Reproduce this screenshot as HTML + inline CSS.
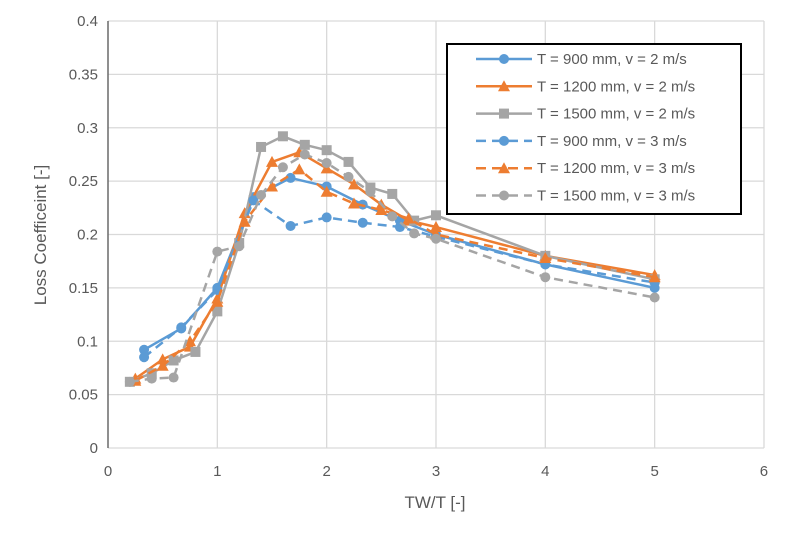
<!DOCTYPE html>
<html><head><meta charset="utf-8"><style>
body{margin:0;background:#fff}
svg text{font-family:"Liberation Sans",sans-serif;fill:#595959}
</style></head><body>
<svg id="s" width="800" height="541" xmlns="http://www.w3.org/2000/svg">
<rect width="800" height="541" fill="#fff"/>
<g id="grid"></g>
<g id="series"></g>
<text x="435" y="508" font-size="17" text-anchor="middle">TW/T [-]</text>
<text transform="translate(46,235) rotate(-90)" font-size="17" text-anchor="middle">Loss Coefficeint [-]</text>
<rect x="447" y="44" width="294" height="170" fill="#fff" stroke="#000" stroke-width="2"/>
<g id="leg"></g>
</svg>
<script>
const NS="http://www.w3.org/2000/svg";
const X=x=>108+109.33*x, Y=y=>448-1067.5*y;
function el(p,t,a){const e=document.createElementNS(NS,t);for(const k in a)e.setAttribute(k,a[k]);p.appendChild(e);return e;}
const g=document.getElementById('grid');
for(let i=0;i<=8;i++){const y=Y(i*0.05);el(g,'line',{x1:108,x2:764,y1:y,y2:y,stroke:'#d9d9d9','stroke-width':1.3});
 const t=el(g,'text',{x:98,y:y+5,'font-size':15,'text-anchor':'end'});t.textContent=i==0?'0':(i*0.05).toFixed(2).replace(/0$/,'');}
for(let i=0;i<=6;i++){const x=X(i);el(g,'line',{x1:x,x2:x,y1:21,y2:448,stroke:'#d9d9d9','stroke-width':1.3});
 const t=el(g,'text',{x:x,y:476,'font-size':15,'text-anchor':'middle'});t.textContent=i;}
el(g,'line',{x1:108,x2:108,y1:21,y2:448,stroke:'#595959','stroke-width':1.3});
const S=[
{c:'#5b9bd5',m:'c',d:false,n:'T = 900 mm, v = 2 m/s',p:[[0.33,0.092],[0.67,0.112],[1,0.15],[1.33,0.235],[1.67,0.253],[2,0.245],[2.33,0.228],[2.67,0.213],[3,0.2],[4,0.172],[5,0.15]]},
{c:'#ed7d31',m:'t',d:false,n:'T = 1200 mm, v = 2 m/s',p:[[0.25,0.065],[0.5,0.083],[0.75,0.095],[1,0.14],[1.25,0.22],[1.5,0.268],[1.75,0.277],[2,0.262],[2.25,0.247],[2.5,0.228],[2.75,0.213],[3,0.207],[4,0.18],[5,0.162]]},
{c:'#a5a5a5',m:'s',d:false,n:'T = 1500 mm, v = 2 m/s',p:[[0.2,0.062],[0.4,0.07],[0.6,0.082],[0.8,0.09],[1,0.128],[1.2,0.192],[1.4,0.282],[1.6,0.292],[1.8,0.284],[2,0.279],[2.2,0.268],[2.4,0.244],[2.6,0.238],[2.8,0.213],[3,0.218],[4,0.18],[5,0.158]]},
{c:'#5b9bd5',m:'c',d:true,n:'T = 900 mm, v = 3 m/s',p:[[0.33,0.085],[0.67,0.113],[1,0.148],[1.33,0.232],[1.67,0.208],[2,0.216],[2.33,0.211],[2.67,0.207],[3,0.198],[4,0.172],[5,0.155]]},
{c:'#ed7d31',m:'t',d:true,n:'T = 1200 mm, v = 3 m/s',p:[[0.25,0.063],[0.5,0.077],[0.75,0.1],[1,0.137],[1.25,0.212],[1.5,0.245],[1.75,0.261],[2,0.24],[2.25,0.229],[2.5,0.223],[2.75,0.215],[3,0.2],[4,0.178],[5,0.16]]},
{c:'#a5a5a5',m:'c',d:true,n:'T = 1500 mm, v = 3 m/s',p:[[0.2,0.062],[0.4,0.065],[0.6,0.066],[1,0.184],[1.2,0.189],[1.4,0.237],[1.6,0.263],[1.8,0.275],[2,0.267],[2.2,0.254],[2.4,0.24],[2.6,0.217],[2.8,0.201],[3,0.196],[4,0.16],[5,0.141]]}];
function mk(p,m,c,x,y){if(m=='c')el(p,'circle',{cx:x,cy:y,r:5,fill:c});
 else if(m=='s')el(p,'rect',{x:x-5,y:y-5,width:10,height:10,fill:c});
 else el(p,'polygon',{points:`${x},${y-6} ${x+6},${y+5} ${x-6},${y+5}`,fill:c});}
const sg=document.getElementById('series'),lg=document.getElementById('leg');
S.forEach((s,i)=>{
 const a={points:s.p.map(q=>X(q[0])+','+Y(q[1])).join(' '),fill:'none',stroke:s.c,'stroke-width':2.5,'stroke-linejoin':'round'};
 if(s.d)a['stroke-dasharray']='9,6';
 el(sg,'polyline',a);s.p.forEach(q=>mk(sg,s.m,s.c,X(q[0]),Y(q[1])));
 const y=59+i*27.3;const b={x1:476,x2:532,y1:y,y2:y,stroke:s.c,'stroke-width':2.5};if(s.d)b['stroke-dasharray']='10,6';
 el(lg,'line',b);mk(lg,s.m,s.c,504,y);
 const t=el(lg,'text',{x:537,y:y+5,'font-size':15});t.textContent=s.n;});
</script>
</body></html>
